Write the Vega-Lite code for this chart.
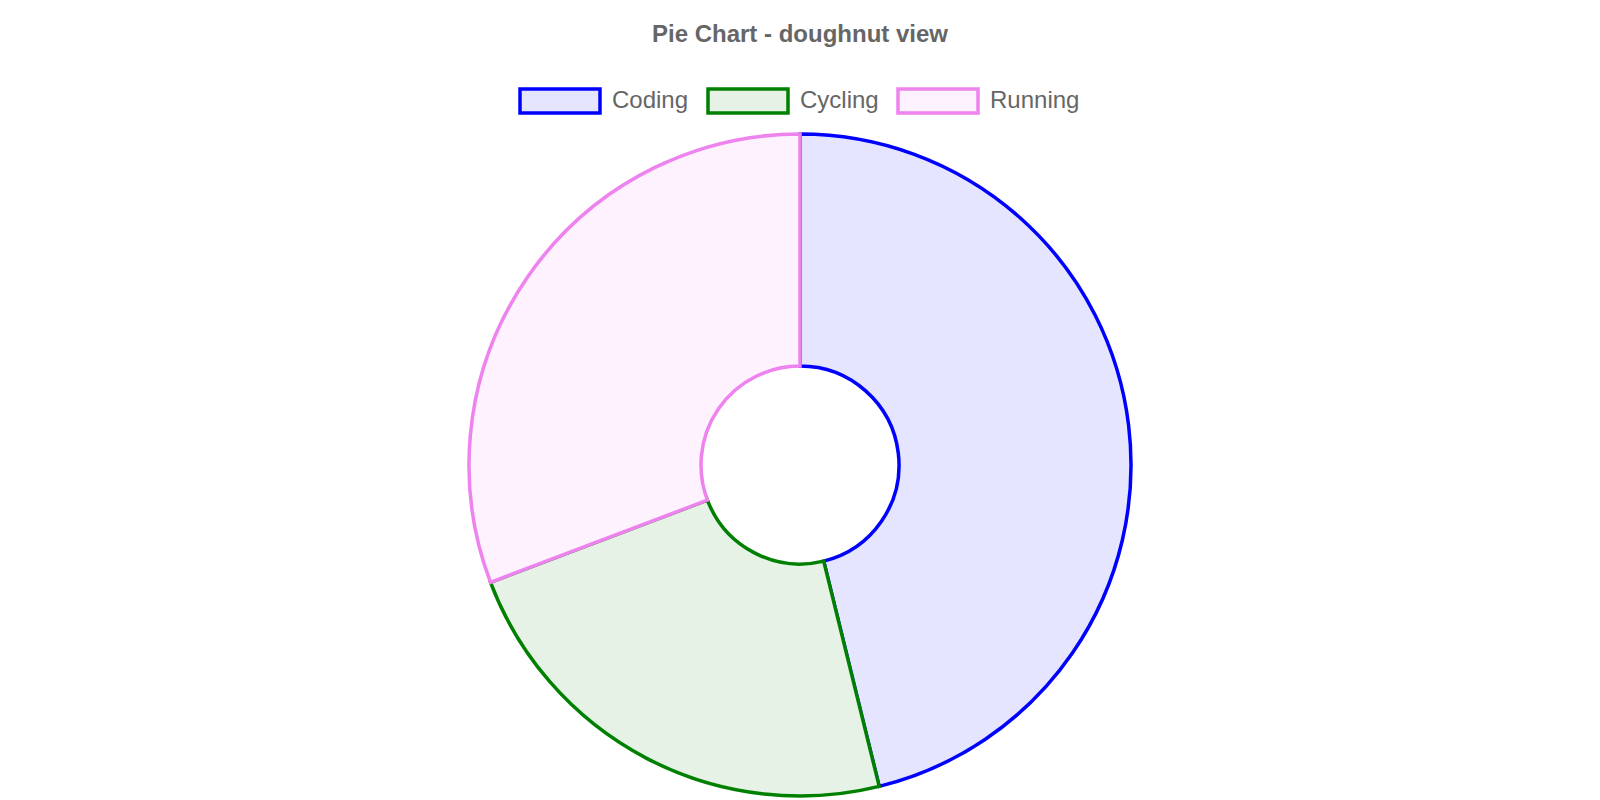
{
  "$schema": "https://vega.github.io/schema/vega-lite/v6.json",
  "width": 1600,
  "height": 662,
  "autosize": {"type": "none"},
  "padding": {"top": 134, "left": 0, "right": 0, "bottom": 4},
  "background": "#ffffff",
  "view": {"stroke": null},
  "title": {
    "text": "Pie Chart - doughnut view",
    "font": "Liberation Sans",
    "fontSize": 24,
    "fontWeight": "bold",
    "color": "#666666",
    "anchor": "middle",
    "offset": 12
  },
  "data": {
    "values": [
      {"activity": "Coding", "value": 6},
      {"activity": "Cycling", "value": 3},
      {"activity": "Running", "value": 4}
    ]
  },
  "mark": {"type": "arc", "radius": 331, "innerRadius": 99, "strokeWidth": 3.5},
  "encoding": {
    "theta": {"field": "value", "type": "quantitative", "stack": true},
    "order": {"field": "activity", "sort": "ascending"},
    "fill": {
      "field": "activity",
      "type": "nominal",
      "scale": {"domain": ["Coding", "Cycling", "Running"], "range": ["#e5e5ff", "#e6f2e6", "#fdf2fd"]},
      "legend": {
        "orient": "none",
        "legendX": 518,
        "legendY": -75,
        "direction": "horizontal",
        "title": null
      }
    },
    "stroke": {
      "field": "activity",
      "type": "nominal",
      "scale": {"domain": ["Coding", "Cycling", "Running"], "range": ["#0000ff", "#008000", "#ee82ee"]},
      "legend": {
        "orient": "none",
        "legendX": 518,
        "legendY": -75,
        "direction": "horizontal",
        "title": null
      }
    }
  },
  "config": {
    "legend": {
      "symbolType": "M-1,-0.3H1V0.3H-1Z",
      "symbolSize": 6400,
      "symbolStrokeWidth": 3.5,
      "symbolOpacity": 1,
      "labelFont": "Liberation Sans",
      "labelFontSize": 24,
      "labelColor": "#666666",
      "labelOffset": 10,
      "columnPadding": 12,
      "padding": 0
    }
  }
}
